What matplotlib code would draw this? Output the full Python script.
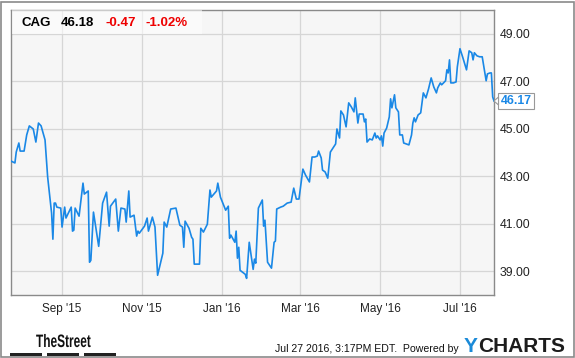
import matplotlib
matplotlib.use("Agg")
import matplotlib.pyplot as plt
from matplotlib.patches import Rectangle, Polygon, PathPatch
from matplotlib.textpath import TextPath
from matplotlib.font_manager import FontProperties
from matplotlib.transforms import Affine2D, IdentityTransform
import pandas as pd

plt.rcParams["font.family"] = ["Liberation Sans", "DejaVu Sans"]

ticker = "CAG"
last_price = "46.18"
change = "-0.47"
change_pct = "-1.02%"

dates = [
    "2015-07-24", "2015-07-27", "2015-07-28", "2015-07-30", "2015-07-31", "2015-08-03",
    "2015-08-05", "2015-08-07", "2015-08-10", "2015-08-12", "2015-08-14", "2015-08-16",
    "2015-08-19", "2015-08-21", "2015-08-24", "2015-08-25", "2015-08-26", "2015-08-27",
    "2015-08-28", "2015-08-31", "2015-09-01", "2015-09-03", "2015-09-04", "2015-09-08",
    "2015-09-09", "2015-09-10", "2015-09-11", "2015-09-14", "2015-09-17", "2015-09-18",
    "2015-09-21", "2015-09-22", "2015-09-23", "2015-09-25", "2015-09-29", "2015-10-02",
    "2015-10-05", "2015-10-07", "2015-10-08", "2015-10-12", "2015-10-14", "2015-10-16",
    "2015-10-19", "2015-10-20", "2015-10-22", "2015-10-23", "2015-10-26", "2015-10-28",
    "2015-10-29", "2015-10-30", "2015-11-03", "2015-11-05", "2015-11-06", "2015-11-09",
    "2015-11-11", "2015-11-13", "2015-11-17", "2015-11-18", "2015-11-20", "2015-11-23",
    "2015-11-27", "2015-11-30", "2015-12-02", "2015-12-03", "2015-12-04", "2015-12-07",
    "2015-12-09", "2015-12-10", "2015-12-11", "2015-12-15", "2015-12-16", "2015-12-18",
    "2015-12-21", "2015-12-23", "2015-12-24", "2015-12-28", "2015-12-29", "2015-12-31",
    "2016-01-04", "2016-01-06", "2016-01-07", "2016-01-08", "2016-01-11", "2016-01-12",
    "2016-01-13", "2016-01-14", "2016-01-15", "2016-01-19", "2016-01-20", "2016-01-22",
    "2016-01-25", "2016-01-26", "2016-01-27", "2016-01-29", "2016-02-01", "2016-02-02",
    "2016-02-03", "2016-02-05", "2016-02-08", "2016-02-10", "2016-02-11", "2016-02-12",
    "2016-02-15", "2016-02-17", "2016-02-20", "2016-02-23", "2016-02-25", "2016-02-27",
    "2016-02-29", "2016-03-03", "2016-03-05", "2016-03-08", "2016-03-10", "2016-03-12",
    "2016-03-14", "2016-03-15", "2016-03-17", "2016-03-18", "2016-03-20", "2016-03-22",
    "2016-03-24", "2016-03-26", "2016-03-28", "2016-03-29", "2016-03-31", "2016-04-01",
    "2016-04-03", "2016-04-05", "2016-04-07", "2016-04-09", "2016-04-11", "2016-04-12",
    "2016-04-14", "2016-04-15", "2016-04-18", "2016-04-19", "2016-04-20", "2016-04-21",
    "2016-04-23", "2016-04-25", "2016-04-27", "2016-04-28", "2016-04-29", "2016-05-01",
    "2016-05-02", "2016-05-03", "2016-05-04", "2016-05-06", "2016-05-08", "2016-05-09",
    "2016-05-10", "2016-05-12", "2016-05-13", "2016-05-15", "2016-05-16", "2016-05-18",
    "2016-05-19", "2016-05-23", "2016-05-25", "2016-05-26", "2016-05-27", "2016-05-28",
    "2016-05-30", "2016-06-01", "2016-06-03", "2016-06-05", "2016-06-07", "2016-06-09",
    "2016-06-11", "2016-06-13", "2016-06-14", "2016-06-16", "2016-06-17", "2016-06-20",
    "2016-06-21", "2016-06-22", "2016-06-23", "2016-06-24", "2016-06-26", "2016-06-28",
    "2016-06-29", "2016-07-01", "2016-07-03", "2016-07-06", "2016-07-08", "2016-07-10",
    "2016-07-11", "2016-07-12", "2016-07-14", "2016-07-16", "2016-07-18", "2016-07-19",
    "2016-07-21", "2016-07-22", "2016-07-24", "2016-07-25", "2016-07-26", "2016-07-27",
]

prices = [
    43.64, 43.56, 44.02, 44.40, 44.06, 44.06, 44.74, 45.12, 44.99, 44.44, 45.24, 45.12,
    44.53, 42.97, 41.45, 40.35, 41.87, 41.87, 41.70, 41.66, 40.86, 41.70, 41.24, 41.70,
    40.69, 40.73, 41.66, 41.32, 42.71, 42.25, 42.38, 39.38, 39.46, 41.49, 40.05, 41.87,
    42.33, 40.90, 41.74, 42.04, 40.69, 41.66, 41.62, 41.07, 42.38, 41.28, 41.36, 40.48,
    40.69, 40.60, 40.90, 41.24, 40.69, 41.28, 40.86, 38.83, 39.76, 41.07, 40.86, 41.62,
    41.66, 40.94, 40.86, 40.01, 41.11, 40.81, 40.43, 40.35, 39.30, 39.30, 40.81, 40.65,
    40.98, 42.42, 42.12, 42.38, 42.71, 42.12, 41.57, 41.74, 40.39, 40.52, 40.22, 40.69,
    39.55, 40.01, 39.04, 38.87, 38.70, 40.22, 39.08, 39.51, 39.34, 41.66, 42.00, 40.90,
    41.15, 39.38, 39.13, 40.22, 40.27, 41.62, 41.70, 41.74, 41.87, 41.91, 42.50, 42.04,
    42.04, 43.30, 43.05, 42.76, 43.81, 43.81, 43.85, 44.06, 43.77, 43.26, 43.18, 42.92,
    44.02, 44.19, 44.36, 44.99, 44.61, 45.75, 45.58, 45.08, 46.09, 45.92, 45.71, 46.30,
    45.24, 45.62, 45.62, 45.29, 45.41, 44.44, 44.57, 44.53, 44.82, 44.61, 44.70, 44.53,
    44.70, 44.27, 44.82, 45.03, 45.50, 46.26, 45.88, 46.43, 45.88, 45.71, 44.74, 44.74,
    44.40, 44.32, 44.74, 45.24, 45.46, 45.29, 45.58, 45.67, 46.51, 46.30, 46.68, 47.14,
    46.76, 46.51, 46.72, 46.93, 46.85, 47.02, 47.48, 47.35, 47.90, 46.93, 46.93, 46.97,
    47.61, 48.37, 48.03, 47.48, 48.28, 48.20, 47.90, 48.20, 48.07, 48.03, 48.03, 47.69,
    47.02, 47.31, 47.35, 47.35, 46.34, 46.17,
]

y_ticks = [39, 41, 43, 45, 47, 49]
x_tick_dates = ["2015-09-01", "2015-11-01", "2016-01-01", "2016-03-01", "2016-05-01", "2016-07-01"]
x_tick_labels = ["Sep '15", "Nov '15", "Jan '16", "Mar '16", "May '16", "Jul '16"]

W, H = 575, 358
fig = plt.figure(figsize=(W / 100, H / 100), dpi=100)
fig.patch.set_facecolor("white")

# axes box in pixels: left 11, right 494, top 10, bottom 295
ax = fig.add_axes([11 / W, 1 - 295 / H, 483 / W, 285 / H])
ax.set_facecolor("#f6f6f6")

x = pd.to_datetime(dates)
ax.plot(x, prices, color="#1a88e6", linewidth=1.2, zorder=3)

ax.set_xlim(pd.Timestamp("2015-07-24"), pd.Timestamp("2016-07-27"))
ax.set_ylim(38, 50)

ax.set_yticks(y_ticks)
ax.set_yticklabels([f"{v:.2f}" for v in y_ticks])
ax.yaxis.tick_right()
ax.set_xticks(pd.to_datetime(x_tick_dates))
ax.set_xticklabels(x_tick_labels)
ax.tick_params(axis="both", length=0, colors="#222222")
ax.tick_params(axis="y", pad=4, labelsize=8.8)
ax.tick_params(axis="x", pad=6, labelsize=8.5)

ax.grid(True, color="#d6d6d6", linewidth=0.9)
ax.set_axisbelow(True)
for s in ax.spines.values():
    s.set_color("#8a8a8a")
    s.set_linewidth(1.0)

# outer frame
fig.patches.append(Rectangle((1 / W, 1 / H), 573 / W, 355 / H, transform=fig.transFigure,
                             fill=False, edgecolor="#8a8a8a", linewidth=1.2))

# quote header box
fig.patches.append(Rectangle((11.5 / W, 1 - 34 / H), 190 / W, 23.5 / H, transform=fig.transFigure,
                             facecolor="white", alpha=0.55, edgecolor="none", zorder=2))
hy = 1 - 23 / H
fig.text(21 / W, hy, ticker, fontsize=9.5, fontweight="bold", color="black", va="center")
fig.text(61 / W, hy, last_price, fontsize=9.5, fontweight="bold", color="black", va="center")
fig.text(105 / W, hy, change, fontsize=9.5, fontweight="bold", color="#ee0000", va="center")
fig.text(146 / W, hy, change_pct, fontsize=9.5, fontweight="bold", color="#ee0000", va="center")

# last value callout
ax.annotate(f"{prices[-1]:.2f}", xy=(1, prices[-1]), xycoords=("axes fraction", "data"),
            xytext=(5, 0), textcoords="offset points", va="center", ha="left",
            fontsize=8.8, fontweight="bold", color="#1a88e6", annotation_clip=False,
            bbox=dict(boxstyle="square,pad=0.2", facecolor="white", edgecolor="#999999", linewidth=0.8))
cy = 1 - 101 / H
fig.patches.append(Polygon([(494 / W, cy), (498.5 / W, cy + 4 / H), (498.5 / W, cy - 4 / H)],
                           closed=True, transform=fig.transFigure, facecolor="white",
                           edgecolor="#999999", linewidth=0.8, zorder=3))

# footer: condensed "TheStreet" wordmark
tp = TextPath((0, 0), "TheStreet", size=18,
              prop=FontProperties(family="Liberation Sans", weight="bold"))
logo_tf = Affine2D().scale(0.66, 1.0).translate(36, H - 347) + IdentityTransform()
fig.patches.append(PathPatch(tp, transform=logo_tf, facecolor="#111111", edgecolor="none"))
for bx in [(10, 42), (47, 79), (84, 116)]:
    fig.patches.append(Rectangle((bx[0] / W, 1 - 356 / H), (bx[1] - bx[0]) / W, 3 / H,
                                 transform=fig.transFigure, facecolor="#222222", edgecolor="none"))
fig.text(459 / W, 1 - 349 / H, "Jul 27 2016, 3:17PM EDT.  Powered by", fontsize=7.6,
         ha="right", va="center", color="#111111")
fig.text(464 / W, 1 - 346 / H, "Y", fontsize=15, fontweight="bold", ha="left", va="center",
         color="#1a8ad8")
fig.text(478 / W, 1 - 346 / H, "CHARTS", fontsize=15, fontweight="bold", ha="left", va="center",
         color="#1c1c1c")

fig.savefig("out.png", dpi=100)
